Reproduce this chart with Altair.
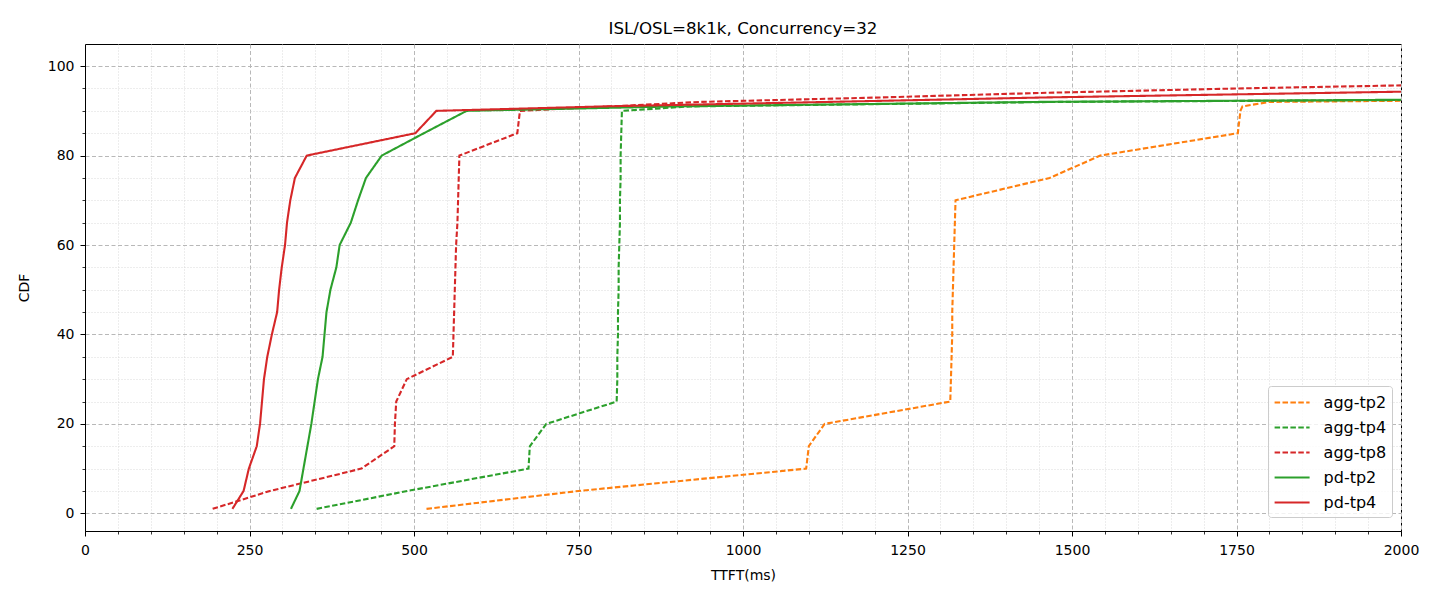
import altair as alt
import pandas as pd

# percentile levels (y values)
pct = [1, 5, 10, 15, 20, 25, 30, 35, 40, 45, 50, 55, 60, 65, 70, 75, 80, 85, 90,
       91, 92, 93, 94, 95, 96, 97, 98, 99, 100]

# TTFT (ms) at each percentile
agg_tp2 = [519, 750, 1096, 1100, 1124, 1315, 1316, 1317, 1318, 1318, 1319, 1320, 1321, 1322, 1323,
           1466, 1543, 1752, 1756, 1759, 1800, 2600, 3200, 3800, 4400, 5000, 5800, 6800, 8000]
agg_tp4 = [352, 490, 674, 676, 701, 808, 809, 809, 810, 810, 811, 811, 812, 813, 813,
           814, 814, 815, 816, 920, 1480, 2700, 3300, 3900, 4500, 5100, 5900, 6900, 8200]
agg_tp8 = [194, 281, 420, 470, 471, 473, 489, 559, 560, 561, 562, 563, 564, 566, 567,
           568, 569, 657, 661, 800, 935, 1210, 1450, 1750, 2110, 2600, 3200, 4000, 5500]
pd_tp2 = [313, 326, 332, 338, 344, 349, 354, 361, 364, 367, 373, 382, 387, 404, 415,
          427, 451, 515, 580, 900, 1450, 2600, 3300, 3900, 4500, 5100, 5900, 6900, 8200]
pd_tp4 = [224, 241, 249, 261, 266, 269, 272, 277, 284, 292, 295, 299, 304, 307, 312,
          319, 337, 502, 534, 790, 1130, 1460, 1880, 2300, 2700, 3100, 3600, 4300, 5500]

series_names = ["agg-tp2", "agg-tp4", "agg-tp8", "pd-tp2", "pd-tp4"]
series_values = [agg_tp2, agg_tp4, agg_tp8, pd_tp2, pd_tp4]
series_colors = ["#ff7f0e", "#2ca02c", "#d62728", "#2ca02c", "#d62728"]
series_dashes = [[5.5, 2.4], [5.5, 2.4], [5.5, 2.4], [1, 0], [1, 0]]

x_major = [0, 250, 500, 750, 1000, 1250, 1500, 1750, 2000]
x_minor = [v for v in range(50, 2000, 50) if v % 250 != 0]
y_major = [0, 20, 40, 60, 80, 100]
y_minor = [v for v in range(5, 100, 5) if v % 20 != 0]

rows = []
for name, vals in zip(series_names, series_values):
    for p, v in zip(pct, vals):
        rows.append({"series": name, "ttft": v, "pct": p})
df = pd.DataFrame(rows)

FONT = "DejaVu Sans"
xs = alt.Scale(domain=[0, 2000], nice=False, zero=False)
ys = alt.Scale(domain=[-3.95, 104.95], nice=False, zero=False)

# a horizontal line handle, 35px long at symbolSize 400 (unit = 10px)
HANDLE = "M-1,0H2.5"

legend_cfg = dict(
    title=None, orient="none", legendX=1183, legendY=342, padding=5.6,
    strokeColor="#cccccc", fillColor="rgba(255,255,255,0.8)", cornerRadius=3,
    symbolType=HANDLE, symbolSize=400, symbolStrokeWidth=2,
    labelFontSize=16, labelFont=FONT, labelColor="black", labelOffset=28,
    rowPadding=6,
)

minor = alt.Chart(df).mark_point(opacity=0, clip=True).encode(
    x=alt.X("ttft:Q", scale=xs, axis=alt.Axis(
        values=x_minor, orient="bottom", labels=False, domain=False, title=None,
        tickSize=3, tickWidth=0.8, tickColor="black",
        grid=True, gridDash=[1, 2], gridColor="#d0d0d0", gridWidth=0.8)),
    y=alt.Y("pct:Q", scale=ys, axis=alt.Axis(
        values=y_minor, orient="left", labels=False, domain=False, title=None,
        tickSize=3, tickWidth=0.8, tickColor="black",
        grid=True, gridDash=[1, 2], gridColor="#d0d0d0", gridWidth=0.8)),
)

lines = alt.Chart(df).mark_line(clip=True, strokeWidth=2.1).encode(
    x=alt.X("ttft:Q", scale=xs, axis=alt.Axis(
        values=x_major, orient="bottom", title="TTFT(ms)", format="d",
        tickSize=5, tickWidth=1, tickColor="black", domainColor="black",
        labelPadding=7, titlePadding=11, labelFlush=False,
        grid=True, gridDash=[4, 2.5], gridColor="#b8b8b8", gridWidth=1)),
    y=alt.Y("pct:Q", scale=ys, axis=alt.Axis(
        values=y_major, orient="left", title="CDF", format="d",
        tickSize=5, tickWidth=1, tickColor="black", domainColor="black",
        labelPadding=6, titlePadding=16, labelFlush=False,
        grid=True, gridDash=[4, 2.5], gridColor="#b8b8b8", gridWidth=1)),
    color=alt.Color("series:N", scale=alt.Scale(domain=series_names, range=series_colors),
                    legend=alt.Legend(**legend_cfg)),
    strokeDash=alt.StrokeDash("series:N", scale=alt.Scale(domain=series_names, range=series_dashes),
                              legend=alt.Legend(**legend_cfg)),
    order=alt.Order("pct:Q"),
)

chart = alt.layer(minor, lines).resolve_axis(
    x="independent", y="independent"
).properties(
    width=1316, height=487,
    title=alt.Title("ISL/OSL=8k1k, Concurrency=32", fontSize=16.7, font=FONT,
                    fontWeight="normal", anchor="middle", baseline="alphabetic",
                    offset=8, dy=15, color="black"),
    autosize=alt.AutoSizeParams(type="none"),
    padding={"left": 77, "top": 36, "right": 31, "bottom": 61},
).configure_view(
    stroke="black", strokeWidth=1
).configure_axis(
    labelFont=FONT, titleFont=FONT, labelFontSize=14, titleFontSize=14,
    labelColor="black", titleColor="black", titleFontWeight="normal"
).configure_legend(
    labelFont=FONT, labelFontSize=16, labelColor="black", labelOffset=28,
    symbolType=HANDLE, symbolSize=400, symbolStrokeWidth=2,
    padding=5.6, rowPadding=6,
    strokeColor="#cccccc", fillColor="rgba(255,255,255,0.8)", cornerRadius=3
)

chart.save("out.html", embed_options={"renderer": "svg", "actions": False})
